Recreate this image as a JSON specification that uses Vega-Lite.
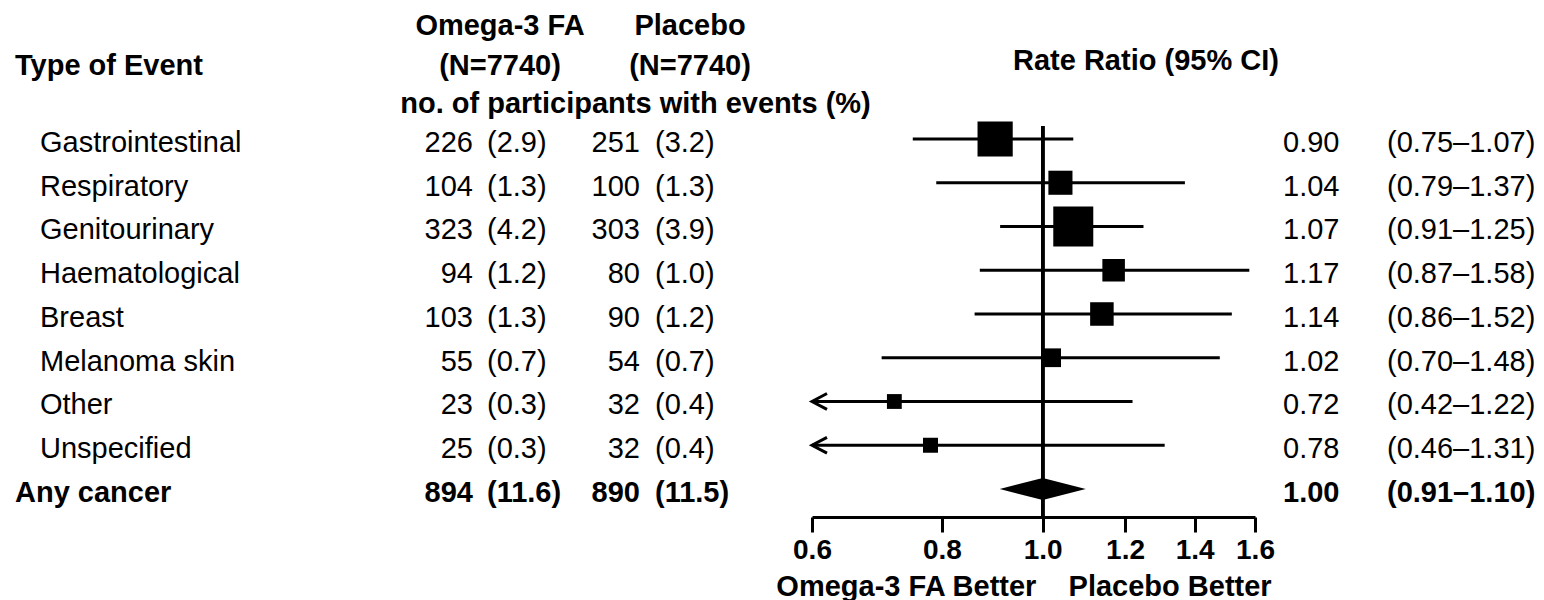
{
  "$schema": "https://vega.github.io/schema/vega-lite/v6.json",
  "padding": {"left": 15, "top": 12, "right": 0, "bottom": 0},
  "spacing": 0,
  "bounds": "flush",
  "config": {
    "font": "Liberation Sans",
    "view": {"stroke": null},
    "title": {"fontSize": 29, "fontWeight": "bold", "color": "black"}
  },
  "data": {
    "values": [
      {"event": "Gastrointestinal", "group": "item", "o_n": 226, "o_pct": "(2.9)", "p_n": 251, "p_pct": "(3.2)", "rr": 0.90, "lo": 0.75, "hi": 1.07, "ci": "(0.75–1.07)", "events": 477},
      {"event": "Respiratory", "group": "item", "o_n": 104, "o_pct": "(1.3)", "p_n": 100, "p_pct": "(1.3)", "rr": 1.04, "lo": 0.79, "hi": 1.37, "ci": "(0.79–1.37)", "events": 204},
      {"event": "Genitourinary", "group": "item", "o_n": 323, "o_pct": "(4.2)", "p_n": 303, "p_pct": "(3.9)", "rr": 1.07, "lo": 0.91, "hi": 1.25, "ci": "(0.91–1.25)", "events": 626},
      {"event": "Haematological", "group": "item", "o_n": 94, "o_pct": "(1.2)", "p_n": 80, "p_pct": "(1.0)", "rr": 1.17, "lo": 0.87, "hi": 1.58, "ci": "(0.87–1.58)", "events": 174},
      {"event": "Breast", "group": "item", "o_n": 103, "o_pct": "(1.3)", "p_n": 90, "p_pct": "(1.2)", "rr": 1.14, "lo": 0.86, "hi": 1.52, "ci": "(0.86–1.52)", "events": 193},
      {"event": "Melanoma skin", "group": "item", "o_n": 55, "o_pct": "(0.7)", "p_n": 54, "p_pct": "(0.7)", "rr": 1.02, "lo": 0.70, "hi": 1.48, "ci": "(0.70–1.48)", "events": 109},
      {"event": "Other", "group": "item", "o_n": 23, "o_pct": "(0.3)", "p_n": 32, "p_pct": "(0.4)", "rr": 0.72, "lo": 0.42, "hi": 1.22, "ci": "(0.42–1.22)", "events": 55},
      {"event": "Unspecified", "group": "item", "o_n": 25, "o_pct": "(0.3)", "p_n": 32, "p_pct": "(0.4)", "rr": 0.78, "lo": 0.46, "hi": 1.31, "ci": "(0.46–1.31)", "events": 57},
      {"event": "Any cancer", "group": "total", "o_n": 894, "o_pct": "(11.6)", "p_n": 890, "p_pct": "(11.5)", "rr": 1.00, "lo": 0.91, "hi": 1.10, "ci": "(0.91–1.10)", "events": 1784}
    ]
  },
  "hconcat": [
    {
      "width": 417,
      "height": 391,
      "title": {"text": "Type of Event", "anchor": "start", "baseline": "bottom", "offset": 16},
      "encoding": {
        "y": {"field": "event", "type": "nominal", "axis": null,
              "scale": {"type": "point", "domain": ["Gastrointestinal", "Respiratory", "Genitourinary", "Haematological", "Breast", "Melanoma skin", "Other", "Unspecified", "Any cancer"], "padding": 0.4685, "align": 0.317}},
        "text": {"field": "event", "type": "nominal"}
      },
      "layer": [
        {
          "transform": [{"filter": "datum.group == 'item'"}],
          "mark": {"type": "text", "align": "left", "baseline": "alphabetic", "fontSize": 29, "color": "black", "dy": 13, "dx": -183.5}
        },
        {
          "transform": [{"filter": "datum.group == 'total'"}],
          "mark": {"type": "text", "align": "left", "baseline": "alphabetic", "fontSize": 29, "fontWeight": "bold", "color": "black", "dy": 13, "dx": -208.5}
        }
      ]
    },
    {
      "width": 136,
      "height": 391,
      "title": {"text": ["Omega-3 FA", "(N=7740)"], "anchor": "middle", "frame": "group", "baseline": "bottom", "lineHeight": 40, "offset": -21},
      "encoding": {
        "x": {"datum": 0, "type": "quantitative", "scale": {"domain": [-1, 1], "nice": false},
              "axis": {"orient": "top", "labels": false, "ticks": false, "domain": false, "grid": false,
                       "title": "no. of participants with events (%)", "titleFontSize": 29, "titleFontWeight": "bold", "titleColor": "black",
                       "titleBaseline": "alphabetic", "titleAlign": "center", "titleX": 203, "titleY": -14}},
        "y": {"field": "event", "type": "nominal", "axis": null,
              "scale": {"type": "point", "domain": ["Gastrointestinal", "Respiratory", "Genitourinary", "Haematological", "Breast", "Melanoma skin", "Other", "Unspecified", "Any cancer"], "padding": 0.4685, "align": 0.317}}
      },
      "layer": [
        {
          "transform": [{"filter": "datum.group == 'item'"}],
          "mark": {"type": "text", "align": "right", "baseline": "alphabetic", "fontSize": 29, "color": "black", "dy": 13, "dx": -27},
          "encoding": {"text": {"field": "o_n", "type": "nominal"}}
        },
        {
          "transform": [{"filter": "datum.group == 'item'"}],
          "mark": {"type": "text", "align": "left", "baseline": "alphabetic", "fontSize": 29, "color": "black", "dy": 13, "dx": -13},
          "encoding": {"text": {"field": "o_pct", "type": "nominal"}}
        },
        {
          "transform": [{"filter": "datum.group == 'total'"}],
          "mark": {"type": "text", "align": "right", "baseline": "alphabetic", "fontSize": 29, "fontWeight": "bold", "color": "black", "dy": 13, "dx": -27},
          "encoding": {"text": {"field": "o_n", "type": "nominal"}}
        },
        {
          "transform": [{"filter": "datum.group == 'total'"}],
          "mark": {"type": "text", "align": "left", "baseline": "alphabetic", "fontSize": 29, "fontWeight": "bold", "color": "black", "dy": 13, "dx": -13},
          "encoding": {"text": {"field": "o_pct", "type": "nominal"}}
        }
      ]
    },
    {
      "width": 244,
      "height": 391,
      "title": {"text": ["Placebo", "(N=7740)"], "anchor": "middle", "frame": "group", "baseline": "bottom", "lineHeight": 40, "offset": 16},
      "encoding": {
        "y": {"field": "event", "type": "nominal", "axis": null,
              "scale": {"type": "point", "domain": ["Gastrointestinal", "Respiratory", "Genitourinary", "Haematological", "Breast", "Melanoma skin", "Other", "Unspecified", "Any cancer"], "padding": 0.4685, "align": 0.317}}
      },
      "layer": [
        {
          "transform": [{"filter": "datum.group == 'item'"}],
          "mark": {"type": "text", "align": "right", "baseline": "alphabetic", "fontSize": 29, "color": "black", "dy": 13, "dx": -50},
          "encoding": {"text": {"field": "p_n", "type": "nominal"}}
        },
        {
          "transform": [{"filter": "datum.group == 'item'"}],
          "mark": {"type": "text", "align": "left", "baseline": "alphabetic", "fontSize": 29, "color": "black", "dy": 13, "dx": -35},
          "encoding": {"text": {"field": "p_pct", "type": "nominal"}}
        },
        {
          "transform": [{"filter": "datum.group == 'total'"}],
          "mark": {"type": "text", "align": "right", "baseline": "alphabetic", "fontSize": 29, "fontWeight": "bold", "color": "black", "dy": 13, "dx": -50},
          "encoding": {"text": {"field": "p_n", "type": "nominal"}}
        },
        {
          "transform": [{"filter": "datum.group == 'total'"}],
          "mark": {"type": "text", "align": "left", "baseline": "alphabetic", "fontSize": 29, "fontWeight": "bold", "color": "black", "dy": 13, "dx": -35},
          "encoding": {"text": {"field": "p_pct", "type": "nominal"}}
        }
      ]
    },
    {
      "width": 443,
      "height": 391,
      "title": {"text": "Rate Ratio (95% CI)", "anchor": "start", "frame": "group", "dx": 201, "baseline": "bottom", "offset": 16},
      "layer": [
        {
          "transform": [{"filter": "datum.group == 'item'"}],
          "mark": {"type": "rule", "strokeWidth": 3, "color": "black"},
          "encoding": {
            "x": {"field": "lo", "type": "quantitative",
                  "scale": {"type": "log", "domain": [0.6, 1.6], "nice": false, "clamp": true},
                  "axis": {
                    "values": [0.6, 0.8, 1.0, 1.2, 1.4, 1.6], "format": ".1f", "grid": false,
                    "domainColor": "black", "domainWidth": 3,
                    "tickColor": "black", "tickWidth": 3, "tickSize": 15,
                    "labelFontSize": 28, "labelFontWeight": "bold", "labelColor": "black",
                    "labelBaseline": "alphabetic", "labelPadding": 26, "labelFlush": false, "labelOverlap": false,
                    "title": "Omega-3 FA Better\u00a0\u00a0\u00a0\u00a0Placebo Better",
                    "titleFontSize": 29, "titleFontWeight": "bold", "titleColor": "black",
                    "titleBaseline": "alphabetic", "titleAlign": "center", "titleX": 211.5, "titleY": 78
                  }},
            "x2": {"field": "hi"},
            "y": {"field": "event", "type": "nominal", "axis": null,
                  "scale": {"type": "point", "domain": ["Gastrointestinal", "Respiratory", "Genitourinary", "Haematological", "Breast", "Melanoma skin", "Other", "Unspecified", "Any cancer"], "padding": 0.4685, "align": 0.317}}
          }
        },
        {
          "mark": {"type": "rule", "strokeWidth": 3, "color": "black"},
          "encoding": {"x": {"datum": 1}}
        },
        {
          "transform": [{"filter": "datum.group == 'item' && datum.lo < 0.6"}],
          "mark": {"type": "point", "shape": "M1,-0.53L0,0L1,0.53", "filled": false, "color": "black", "strokeWidth": 3, "size": 900, "opacity": 1},
          "encoding": {
            "x": {"field": "lo", "type": "quantitative"},
            "y": {"field": "event", "type": "nominal", "axis": null}
          }
        },
        {
          "transform": [{"filter": "datum.group == 'item'"}],
          "mark": {"type": "square", "filled": true, "color": "black", "opacity": 1},
          "encoding": {
            "x": {"field": "rr", "type": "quantitative"},
            "y": {"field": "event", "type": "nominal", "axis": null},
            "size": {"field": "events", "type": "quantitative", "scale": {"domain": [55, 626], "range": [220, 1600]}, "legend": null}
          }
        },
        {
          "transform": [{"filter": "datum.group == 'total'"}],
          "mark": {"type": "point", "shape": "M-1,0L0,-0.256L1,0L0,0.256Z", "filled": true, "color": "black", "opacity": 1, "size": 7396},
          "encoding": {
            "x": {"field": "rr", "type": "quantitative"},
            "y": {"field": "event", "type": "nominal", "axis": null}
          }
        }
      ]
    },
    {
      "width": 289,
      "height": 391,
      "encoding": {
        "y": {"field": "event", "type": "nominal", "axis": null,
              "scale": {"type": "point", "domain": ["Gastrointestinal", "Respiratory", "Genitourinary", "Haematological", "Breast", "Melanoma skin", "Other", "Unspecified", "Any cancer"], "padding": 0.4685, "align": 0.317}}
      },
      "layer": [
        {
          "transform": [{"filter": "datum.group == 'item'"}],
          "mark": {"type": "text", "align": "left", "baseline": "alphabetic", "fontSize": 29, "color": "black", "dy": 13, "dx": -116.5},
          "encoding": {"text": {"field": "rr", "type": "quantitative", "format": ".2f"}}
        },
        {
          "transform": [{"filter": "datum.group == 'item'"}],
          "mark": {"type": "text", "align": "left", "baseline": "alphabetic", "fontSize": 29, "color": "black", "dy": 13, "dx": -12.5},
          "encoding": {"text": {"field": "ci", "type": "nominal"}}
        },
        {
          "transform": [{"filter": "datum.group == 'total'"}],
          "mark": {"type": "text", "align": "left", "baseline": "alphabetic", "fontSize": 29, "fontWeight": "bold", "color": "black", "dy": 13, "dx": -116.5},
          "encoding": {"text": {"field": "rr", "type": "quantitative", "format": ".2f"}}
        },
        {
          "transform": [{"filter": "datum.group == 'total'"}],
          "mark": {"type": "text", "align": "left", "baseline": "alphabetic", "fontSize": 29, "fontWeight": "bold", "color": "black", "dy": 13, "dx": -12.5},
          "encoding": {"text": {"field": "ci", "type": "nominal"}}
        }
      ]
    }
  ]
}
